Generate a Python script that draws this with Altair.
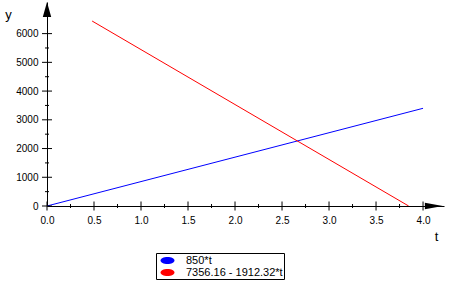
import altair as alt
import pandas as pd

# ---- data ----
series_names = ["850*t", "7356.16 - 1912.32*t"]
series_colors = ["#0000ff", "#ff0000"]
blue_t = [0.0, 4.0]
blue_y = [0.0, 3400.0]
red_t = [0.48, 3.847]
red_y = [6438.0, 0.0]

x_major = [0.0, 0.5, 1.0, 1.5, 2.0, 2.5, 3.0, 3.5, 4.0]
x_minor = [0.25, 0.75, 1.25, 1.75, 2.25, 2.75, 3.25, 3.75]
y_major = [0, 1000, 2000, 3000, 4000, 5000, 6000]
y_minor = [500, 1500, 2500, 3500, 4500, 5500]

X_MAX = 4.223
Y_MAX = 7100
x_arrow_t = [4.115]
y_arrow_v = [6840]

FONT = "Liberation Sans"

lines = pd.DataFrame(
    {"t": blue_t + red_t,
     "y": blue_y + red_y,
     "s": [series_names[0]] * len(blue_t) + [series_names[1]] * len(red_t)}
)

xs = alt.Scale(domain=[0, X_MAX], nice=False, zero=False)
ys = alt.Scale(domain=[0, Y_MAX], nice=False, zero=False)
cs = alt.Scale(domain=series_names, range=series_colors)

x_axis = alt.Axis(values=x_major, format=".1f", ticks=False, grid=False,
                  domainColor="black", domainWidth=1,
                  labelFont=FONT, labelFontSize=10, labelColor="black",
                  labelPadding=9, labelFlush=False, labelOverlap=False,
                  title="t", titleFont=FONT, titleFontSize=13,
                  titleFontWeight="normal", titleColor="black",
                  titleX=389, titleY=30, titleAlign="center",
                  titleBaseline="middle")
y_axis = alt.Axis(values=y_major, format="d", ticks=False, grid=False,
                  domainColor="black", domainWidth=1,
                  labelFont=FONT, labelFontSize=10, labelColor="black",
                  labelPadding=9, labelFlush=False, labelOverlap=False,
                  title="y", titleFont=FONT, titleFontSize=13,
                  titleFontWeight="normal", titleColor="black",
                  titleAngle=0, titleX=-39, titleY=12,
                  titleAlign="center", titleBaseline="middle")


def X():
    return alt.X("t:Q", scale=xs, axis=x_axis)


def Y():
    return alt.Y("y:Q", scale=ys, axis=y_axis)


line_layer = alt.Chart(lines).mark_line(strokeWidth=1, clip=True).encode(
    x=X(), y=Y(),
    color=alt.Color("s:N", scale=cs, legend=None),
)

legend_layer = alt.Chart(lines).mark_point(filled=True, opacity=0, size=1).encode(
    x=X(), y=Y(),
    color=alt.Color("s:N", scale=cs,
                    legend=alt.Legend(
                        title=None, orient="none", legendX=109, legendY=251,
                        strokeColor="black", padding=1, fillColor="white",
                        symbolType="M-1.077,0A1.077,0.54,0,1,0,1.077,0A1.077,0.54,0,1,0,-1.077,0Z",
                        symbolSize=169, symbolStrokeWidth=0, symbolOpacity=1,
                        symbolOffset=4,
                        labelFont=FONT, labelFontSize=11, labelColor="black",
                        labelOffset=12, rowPadding=0)),
)


def tick_layer(tvals, yvals, orient, size):
    return alt.Chart(pd.DataFrame({"t": tvals, "y": yvals})).mark_tick(
        orient=orient, size=size, thickness=1, color="black", opacity=1
    ).encode(x=X(), y=Y())


xmaj = tick_layer(x_major, [0] * len(x_major), "vertical", 9)
xmin = tick_layer(x_minor, [0] * len(x_minor), "vertical", 4)
ymaj = tick_layer([0] * len(y_major), y_major, "horizontal", 10)
ymin = tick_layer([0] * len(y_minor), y_minor, "horizontal", 4)

xarrow = alt.Chart(pd.DataFrame({"t": x_arrow_t, "y": [0]})).mark_point(
    shape="M-1,-0.36L1,0L-1,0.36Z", size=324, filled=True, color="black",
    opacity=1, strokeWidth=0
).encode(x=X(), y=Y())
yarrow = alt.Chart(pd.DataFrame({"t": [0], "y": y_arrow_v})).mark_point(
    shape="M-0.56,1L0,-1L0.56,1Z", size=225, filled=True, color="black",
    opacity=1, strokeWidth=0
).encode(x=X(), y=Y())

chart = alt.layer(line_layer, legend_layer, xmin, xmaj, ymin, ymaj, xarrow, yarrow).resolve_legend(
    color="independent"
).properties(
    width=397, height=204,
    autosize=alt.AutoSizeParams(type="none"),
    padding={"left": 47, "top": 2, "right": 9, "bottom": 87},
    background="white",
).configure_view(stroke=None)

chart.save("out.html", embed_options={"renderer": "svg", "actions": False})
